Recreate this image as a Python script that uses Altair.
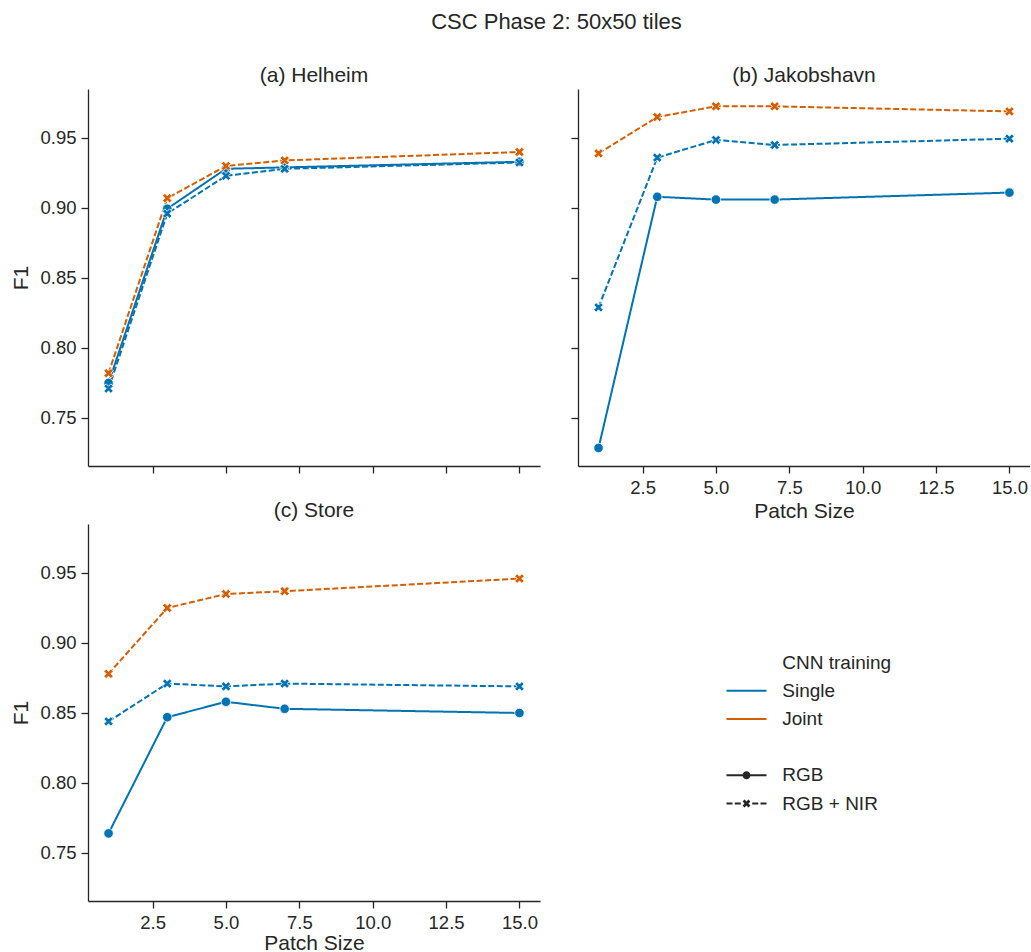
import altair as alt
import pandas as pd

# ---------------- data ----------------
patch_sizes = [1, 3, 5, 7, 15]
glaciers = ["Helheim", "Jakobshavn", "Store"]
panel_titles = ["(a) Helheim", "(b) Jakobshavn", "(c) Store"]
training_levels = ["Single", "Joint"]
band_levels = ["RGB", "RGB + NIR"]

helheim_single_rgb = [0.775, 0.8995, 0.928, 0.929, 0.933]
helheim_single_nir = [0.771, 0.896, 0.923, 0.928, 0.9325]
helheim_joint_nir = [0.782, 0.907, 0.930, 0.934, 0.940]

jakobshavn_single_rgb = [0.7286, 0.908, 0.906, 0.906, 0.911]
jakobshavn_single_nir = [0.829, 0.936, 0.9486, 0.945, 0.9495]
jakobshavn_joint_nir = [0.939, 0.965, 0.9726, 0.9726, 0.969]

store_single_rgb = [0.764, 0.847, 0.858, 0.853, 0.850]
store_single_nir = [0.844, 0.871, 0.869, 0.871, 0.869]
store_joint_nir = [0.878, 0.925, 0.935, 0.937, 0.946]

x_ticks = [2.5, 5.0, 7.5, 10.0, 12.5, 15.0]
y_ticks = [0.75, 0.80, 0.85, 0.90, 0.95]

# legend rows, seaborn style: hue title, hue levels, spacer, style levels
legend_entries = ["CNN training", "Single", "Joint", " ", "RGB", "RGB + NIR"]

series = [
    ("Helheim", "Single", "RGB", helheim_single_rgb),
    ("Helheim", "Single", "RGB + NIR", helheim_single_nir),
    ("Helheim", "Joint", "RGB + NIR", helheim_joint_nir),
    ("Jakobshavn", "Single", "RGB", jakobshavn_single_rgb),
    ("Jakobshavn", "Single", "RGB + NIR", jakobshavn_single_nir),
    ("Jakobshavn", "Joint", "RGB + NIR", jakobshavn_joint_nir),
    ("Store", "Single", "RGB", store_single_rgb),
    ("Store", "Single", "RGB + NIR", store_single_nir),
    ("Store", "Joint", "RGB + NIR", store_joint_nir),
]
rows = []
for g, tr, band, vals in series:
    for p, v in zip(patch_sizes, vals):
        rows.append({"Glacier": g, "Training": tr, "Bands": band, "Patch": p, "F1": v})
df = pd.DataFrame(rows)
legend_df = pd.DataFrame({"Key": legend_entries})

# ---------------- styling ----------------
INK = "#262626"
palette = ["#0173b2", "#d55e00"]
FONT = "Liberation Sans"
X_DOMAIN = [0.3, 15.7]
Y_DOMAIN = [0.7157, 0.985]
PW, PH = 452, 377

x_path = ("M-0.5,-1L0,-0.5L0.5,-1L1,-0.5L0.5,0L1,0.5L0.5,1L0,0.5"
          "L-0.5,1L-1,0.5L-0.5,0L-1,-0.5Z")
marker_shapes = ["circle", x_path]
marker_sizes = [90, 90]

# legend glyphs (symbolSize 4 -> 1 px per path unit), centred at LC
LC = -24.3


def f(v):
    return f"{v:.2f}"


def hbar(a, b, h=1.0):
    return f"M{f(LC+a)},{f(-h)}H{f(LC+b)}V{f(h)}H{f(LC+a)}Z"


_xpts = [(-0.5, -1), (0, -0.5), (0.5, -1), (1, -0.5), (0.5, 0), (1, 0.5),
         (0.5, 1), (0, 0.5), (-0.5, 1), (-1, 0.5), (-0.5, 0), (-1, -0.5)]
blank_glyph = "M0,0Z"
line_glyph = hbar(-20, 20)
rgb_glyph = (hbar(-20, -3.6) + hbar(3.6, 20)
             + f"M{f(LC+4)},0A4,4,0,1,1,{f(LC-4)},0A4,4,0,1,1,{f(LC+4)},0Z")
nir_glyph = "".join(hbar(a, b) for a, b in [(-20, -14), (-11.75, -5.75),
                                            (5.75, 11.75), (14, 20)])
nir_glyph += "M" + "L".join(f"{f(LC+3.9*px)},{f(3.9*py)}" for px, py in _xpts) + "Z"

legend_fill = ["transparent", palette[0], palette[1], "transparent", INK, INK]
legend_shape = [blank_glyph, line_glyph, line_glyph, blank_glyph, rgb_glyph, nir_glyph]

key_legend = alt.Legend(
    title=None, orient="none", legendX=673.3, legendY=564,
    symbolSize=4, symbolOpacity=1, symbolStrokeWidth=0,
    symbolStrokeColor="transparent",
    labelOffset=2, labelFontSize=19, labelColor=INK,
    rowPadding=8.2, padding=0,
)
color_scale = alt.Scale(domain=training_levels, range=palette)


def panel(glacier, title, x_labels, y_labels, with_legend, x_title_pad):
    base = alt.Chart(df).transform_filter(alt.datum.Glacier == glacier)
    x_enc = alt.X(
        "Patch:Q",
        scale=alt.Scale(domain=X_DOMAIN, nice=False, zero=False),
        axis=alt.Axis(values=x_ticks, format=".1f", labels=x_labels,
                      title="Patch Size" if x_labels else None, labelFlush=False,
                      titlePadding=x_title_pad),
    )
    y_enc = alt.Y(
        "F1:Q",
        scale=alt.Scale(domain=Y_DOMAIN, nice=False, zero=False),
        axis=alt.Axis(values=y_ticks, format=".2f", labels=y_labels,
                      title="F1" if y_labels else None, labelFlush=False),
    )
    lines = base.mark_line(strokeWidth=2).encode(
        x=x_enc,
        y=y_enc,
        color=alt.Color("Training:N", scale=color_scale, legend=None),
        strokeDash=alt.StrokeDash(
            "Bands:N",
            scale=alt.Scale(domain=band_levels, range=[[1, 0], [6, 2.5]]),
            legend=None,
        ),
        order="Patch:Q",
    )
    layers = [lines]
    for tr, col in zip(training_levels, palette):
        for band, shp, sz in zip(band_levels, marker_shapes, marker_sizes):
            layers.append(
                base.transform_filter((alt.datum.Training == tr) & (alt.datum.Bands == band))
                .mark_point(shape=shp, filled=True, fill=col, size=sz,
                            stroke="white", strokeWidth=0.8, opacity=1)
                .encode(x=x_enc, y=y_enc)
            )
    if with_legend:
        layers.append(
            alt.Chart(legend_df)
            .mark_point(filled=True, opacity=0, size=0.0001)
            .encode(
                fill=alt.Fill("Key:N",
                              scale=alt.Scale(domain=legend_entries, range=legend_fill),
                              legend=key_legend),
                shape=alt.Shape("Key:N",
                                scale=alt.Scale(domain=legend_entries, range=legend_shape),
                                legend=key_legend),
            )
        )
    return alt.layer(*layers).properties(
        width=PW,
        height=PH,
        title=alt.TitleParams(title, fontSize=21, fontWeight="normal", color=INK,
                              baseline="alphabetic", offset=6, dy=20,
                              anchor="middle"),
    )


A = panel(glaciers[0], panel_titles[0], False, True, False, 3.5)
B = panel(glaciers[1], panel_titles[1], True, False, False, 3.5)
C = panel(glaciers[2], panel_titles[2], True, True, True, 0.5)

chart = (
    alt.concat(A, B, C, columns=2, spacing={"row": 58, "column": 38}, bounds="flush")
    .properties(
        title=alt.TitleParams("CSC Phase 2: 50x50 tiles", fontSize=22,
                              fontWeight="normal", color=INK, anchor="middle",
                              offset=31.5, dx=36),
        padding={"left": 10, "top": 10, "right": 0, "bottom": 0},
    )
    .configure(font=FONT)
    .configure_view(strokeWidth=0)
    .configure_axis(
        grid=False,
        domainColor=INK, domainWidth=1.3,
        tickColor=INK, tickWidth=1.3, tickSize=7,
        labelColor=INK, labelFontSize=18.5, labelPadding=5,
        titleColor=INK, titleFontSize=21, titleFontWeight="normal",
    )
    .configure_axisY(titlePadding=8)
)

chart.save("out.html", embed_options={"renderer": "svg", "actions": False})
